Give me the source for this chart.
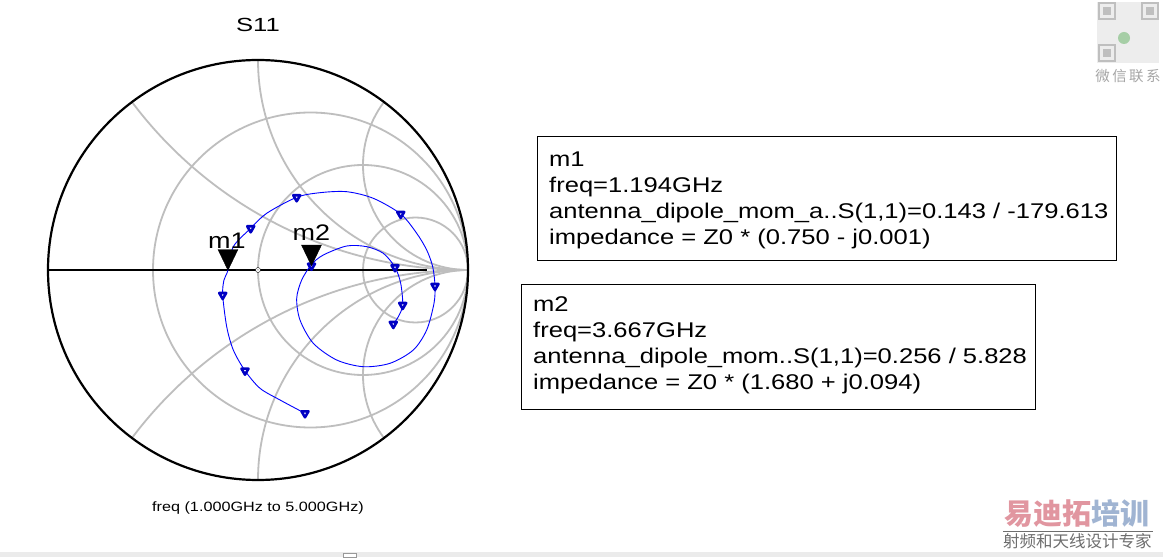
\documentclass[border=0pt]{standalone}
\usepackage{pgfplots}
\pgfplotsset{compat=1.18}
\usepgfplotslibrary{smithchart}
\usepackage{fontspec}
\setmainfont{Liberation Sans}
\newfontfamily\adsfont[FakeStretch=1.2]{Liberation Sans}
\newfontfamily\titlefont[FakeStretch=1.35]{Liberation Sans}
\newfontfamily\cjk{Noto Sans CJK SC}
\definecolor{gridgray}{RGB}{190,190,190}
\definecolor{tracecol}{RGB}{0,0,255}
\definecolor{markcol}{RGB}{0,0,195}
\definecolor{wmred}{RGB}{225,150,160}
\definecolor{wmblue}{RGB}{160,180,210}
\definecolor{wmgray}{RGB}{110,110,110}
\begin{document}
\begin{tikzpicture}[x=1pt,y=1pt]
\path[fill=white] (0,0) rectangle (1163,557);
% bottom strip
\fill[black!8] (0,0) rectangle (1163,4.5);
\draw[black!40, fill=white] (343.5,0) rectangle (356.5,4);
% Smith chart grid (r = 1/3, 1, 3 ; x = +-0.5, +-1, +-2), unit circle: centre (258,287), radius 210
\begin{scope}
\clip (258,287) circle (210);
\begin{scope}[draw=gridgray, line width=1.8pt]
\draw (310.5,287) circle (157.5);
\draw (363,287) circle (105);
\draw (415.5,287) circle (52.5);
\draw (468,707) circle (420);
\draw (468,-133) circle (420);
\draw (468,497) circle (210);
\draw (468,77) circle (210);
\draw (468,392) circle (105);
\draw (468,182) circle (105);
\end{scope}
\end{scope}
\draw[black, line width=2.2pt] (258,287) circle (210);
\begin{smithchart}[
  name=sc, hide axis,
  at={(258pt,287pt)}, anchor=center,
  scale only axis, width=420pt, height=420pt,
  xtick=\empty, ytick=\empty,
  minor xtick=\empty, minor ytick=\empty,
  grid=none,
  clip=false,
]
\addplot[black, line width=2pt, line cap=rect, is smithchart cs] coordinates {(-1,0) (-0.003,0)};
\addplot[black, line width=2pt, line cap=rect, is smithchart cs] coordinates {(0.003,0) (0.8,0)};
\addplot[tracecol, line width=0.9pt, smooth, is smithchart cs] coordinates {
(0.2238,-0.6824) (0.1048,-0.6190) (0.0095,-0.5633) (-0.0619,-0.4795)
(-0.1176,-0.3810) (-0.1490,-0.2700) (-0.1681,-0.1190) (-0.1619,-0.0476)
(-0.1430,-0.0010) (-0.1176,0.1110) (-0.0348,0.1986) (0.0414,0.2700)
(0.1843,0.3462) (0.2952,0.3681) (0.4224,0.3729) (0.5490,0.3414)
(0.6795,0.2667) (0.7557,0.1748) (0.8033,0.0952) (0.8319,0.0157)
(0.8429,-0.0762) (0.8381,-0.1586) (0.8033,-0.2857) (0.7395,-0.3810)
(0.6286,-0.4443) (0.5014,-0.4605) (0.3748,-0.4286) (0.2633,-0.3490)
(0.2000,-0.2381) (0.1843,-0.1348) (0.2081,-0.0476) (0.2547,0.0260)
(0.3110,0.0714) (0.4224,0.1143) (0.5176,0.1110) (0.5967,0.0795)
(0.6524,0.0129) (0.6795,-0.0633) (0.6890,-0.1667) (0.6681,-0.2224)
(0.6443,-0.2571)
};
\addplot[only marks, is smithchart cs, mark=triangle*, mark size=4pt,
  mark options={rotate=180, fill=white, draw=markcol, line width=2.6pt, line join=round}] coordinates {
(0.2238,-0.6824) (-0.0619,-0.4795) (-0.1681,-0.1190) (-0.0348,0.1986)
(0.1843,0.3462) (0.6795,0.2667) (0.8429,-0.0762) (0.2547,0.0200)
(0.6524,0.0129) (0.6890,-0.1667) (0.6443,-0.2571)
};
\addplot[only marks, is smithchart cs, mark=triangle*, mark size=11.5pt,
  mark options={yshift=13.8pt, rotate=180, yscale=1.2, fill=black, draw=black}] coordinates {(-0.1430,-0.0010)}
  node[anchor=base, yshift=22pt, xshift=-1pt] {\adsfont\fontsize{22.5}{24}\selectfont m1};
\addplot[only marks, is smithchart cs, mark=triangle*, mark size=11.5pt,
  mark options={yshift=13.8pt, rotate=180, yscale=1.2, fill=black, draw=black}] coordinates {(0.2547,0.0200)}
  node[anchor=base, yshift=25.5pt] {\adsfont\fontsize{22.5}{24}\selectfont m2};
\end{smithchart}
% title and sweep text
\node[anchor=base] at (258,525.3) {\titlefont\fontsize{19}{20}\selectfont S11};
\node[anchor=base] at (258,45) {\adsfont\fontsize{13.5}{15}\selectfont freq (1.000GHz to 5.000GHz)};
% marker boxes
\draw[black, line width=1pt] (537,420) rectangle (1116,296);
\begin{scope}[every node/.style={anchor=base west, inner sep=0pt, font=\adsfont\fontsize{21.3}{24}\selectfont}]
\node at (549,390) {m1};
\node at (549,364) {freq=1.194GHz};
\node at (549,338) {antenna\_dipole\_mom\_a..S(1,1)=0.143 / -179.613};
\node at (549,312) {impedance = Z0 * (0.750 - j0.001)};
\end{scope}
\draw[black, line width=1pt] (521,272) rectangle (1035,147);
\begin{scope}[every node/.style={anchor=base west, inner sep=0pt, font=\adsfont\fontsize{21.3}{24}\selectfont}]
\node at (533,245) {m2};
\node at (533,219) {freq=3.667GHz};
\node at (533,193) {antenna\_dipole\_mom..S(1,1)=0.256 / 5.828};
\node at (533,167) {impedance = Z0 * (1.680 + j0.094)};
\end{scope}
% watermarks
\fill[black!7] (1097,494) rectangle (1159,555);
\foreach \qx/\qy in {1097/536, 1140/536, 1097/494} {
  \draw[black!25, line width=2pt] (\qx+1.5,\qy+1.5) rectangle (\qx+17.5,\qy+17.5);
  \fill[black!25] (\qx+5.5,\qy+5.5) rectangle (\qx+13.5,\qy+13.5);
}
\fill[green!45!black!35] (1124,519) circle (6);
\node[anchor=center, inner sep=0pt] at (1128,481) {\cjk\fontsize{14.5}{15}\selectfont\color{black!35}微\,信\,联\,系};
\node[anchor=base west, inner sep=0pt] at (1004,32) {\cjk\fontsize{29}{30}\selectfont\bfseries\color{wmred}易迪拓\color{wmblue}培训};
\draw[wmgray, line width=1pt] (1003,25.3) -- (1153,25.3);
\node[anchor=base west, inner sep=0pt] at (1003,9.5) {\cjk\fontsize{16.5}{17}\selectfont\color{wmgray}射频和天线设计专家};
\end{tikzpicture}
\end{document}
